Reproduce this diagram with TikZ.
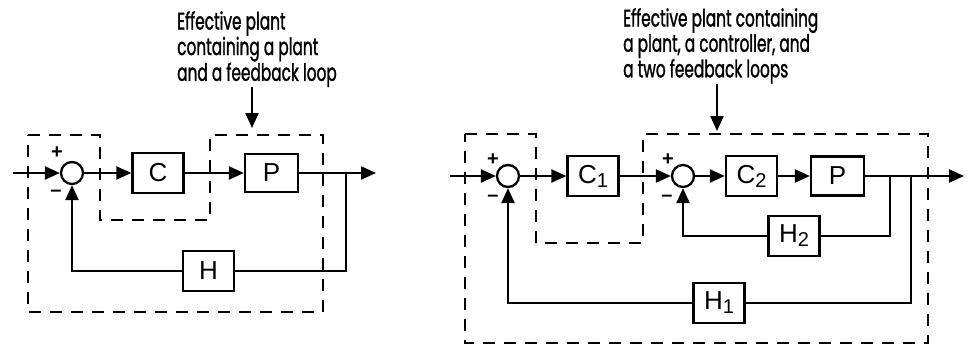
\documentclass[tikz,border=0pt]{standalone}
\usepackage{fontspec}
\setmainfont{Liberation Sans}
\newfontfamily\notefont{Poppins}[FakeStretch=0.64, FakeBold=1.2]
\usetikzlibrary{arrows.meta,shapes}

\tikzset{
  blk/.style={draw, line width=2.3pt, minimum width=51pt, minimum height=40pt, inner sep=0pt, font=\fontsize{26}{26}\selectfont},
  sumc/.style={draw, circle, line width=2.3pt, minimum size=22pt, inner sep=0pt},
  sig/.style={line width=2.3pt, ->},
  wire/.style={line width=2.3pt},
  region/.style={line width=2.3pt, dash pattern=on 12pt off 9pt},
  sgn/.style={font=\bfseries\fontsize{20}{20}\selectfont, inner sep=0pt},
  note/.style={align=left, anchor=north west, inner sep=0pt, font=\notefont\fontsize{24}{23}\selectfont}
}
\newcommand{\idx}[1]{\raisebox{-4pt}{\fontsize{20}{20}\selectfont #1}}

\begin{document}
\begin{tikzpicture}[x=1pt, y=-1pt, >={Triangle[length=15pt,width=13pt]}]
  \useasboundingbox (0,0) rectangle (969,345);

  % --- Left: plant with one loop ---
  \draw[region] (28,135) -- (100,135) -- (100,220) -- (210,220) -- (210,135)
    -- (323,135) -- (323,312) -- (28,312) -- cycle;
  \coordinate (inA) at (13,173);
  \node[sgn] (plA) at (57,153) {+};
  \node[sgn] (miA) at (56,193) {–};
  \node[sumc] (sA) at (72,173) {};
  \node[blk] (C) at (158,173) {C};
  \node[blk, minimum width=53pt, minimum height=38pt] (P) at (271.5,173) {P};
  \node[blk] (H) at (208.5,271) {H};
  \coordinate (brA) at (346,173);
  \coordinate (outA) at (376,173);

  \draw[sig] (inA) -- (sA);
  \draw[sig] (sA) -- (C);
  \draw[sig] (C) -- (P);
  \draw[sig] (P) -- (outA);
  \draw[wire] (brA) |- (H.east);
  \draw[sig] (H.west) -| (sA.south);

  % Label
  \node[note] (noteA) at (177,11) {Effective plant\\containing a plant\\and a feedback loop};
  \coordinate (tA) at (252,87);
  \coordinate (hA) at (252,128);
  \draw[sig] (tA) -- (hA);

  % --- Right: plant, inner controller and two loops ---
  \draw[region] (465,134) -- (536,134) -- (536,243) -- (643,243) -- (643,134)
    -- (928,134) -- (928,343) -- (465,343) -- cycle;
  \coordinate (inB) at (450,176);
  \node[sgn] (plB) at (493,160) {+};
  \node[sgn] (miB) at (493,198) {–};
  \node[sumc] (sB) at (508,176) {};
  \node[blk] (C1) at (593,176) {C\idx{1}};
  \node[sgn] (plC) at (668,160) {+};
  \node[sgn] (miC) at (667,198) {–};
  \node[sumc] (sC) at (683,176) {};
  \node[blk] (C2) at (751.5,176) {C\idx{2}};
  \node[blk, minimum width=53pt, minimum height=39pt] (P2) at (837.5,176) {P};
  \node[blk] (H2) at (794,236) {H\idx{2}};
  \node[blk] (H1) at (719,303) {H\idx{1}};
  \coordinate (brB) at (890,176);
  \coordinate (brC) at (911,176);
  \coordinate (outB) at (964,176);

  \draw[sig] (inB) -- (sB);
  \draw[sig] (sB) -- (C1);
  \draw[sig] (C1) -- (sC);
  \draw[sig] (sC) -- (C2);
  \draw[sig] (C2) -- (P2);
  \draw[sig] (P2) -- (outB);
  \draw[wire] (brB) |- (H2.east);
  \draw[sig] (H2.west) -| (sC.south);
  \draw[wire] (brC) |- (H1.east);
  \draw[sig] (H1.west) -| (sB.south);

  % Label
  \node[note] (noteB) at (623,8) {Effective plant containing\\a plant, a controller, and\\a two feedback loops};
  \coordinate (tB) at (717,84);
  \coordinate (hB) at (717,131);
  \draw[sig] (tB) -- (hB);
\end{tikzpicture}
\end{document}
